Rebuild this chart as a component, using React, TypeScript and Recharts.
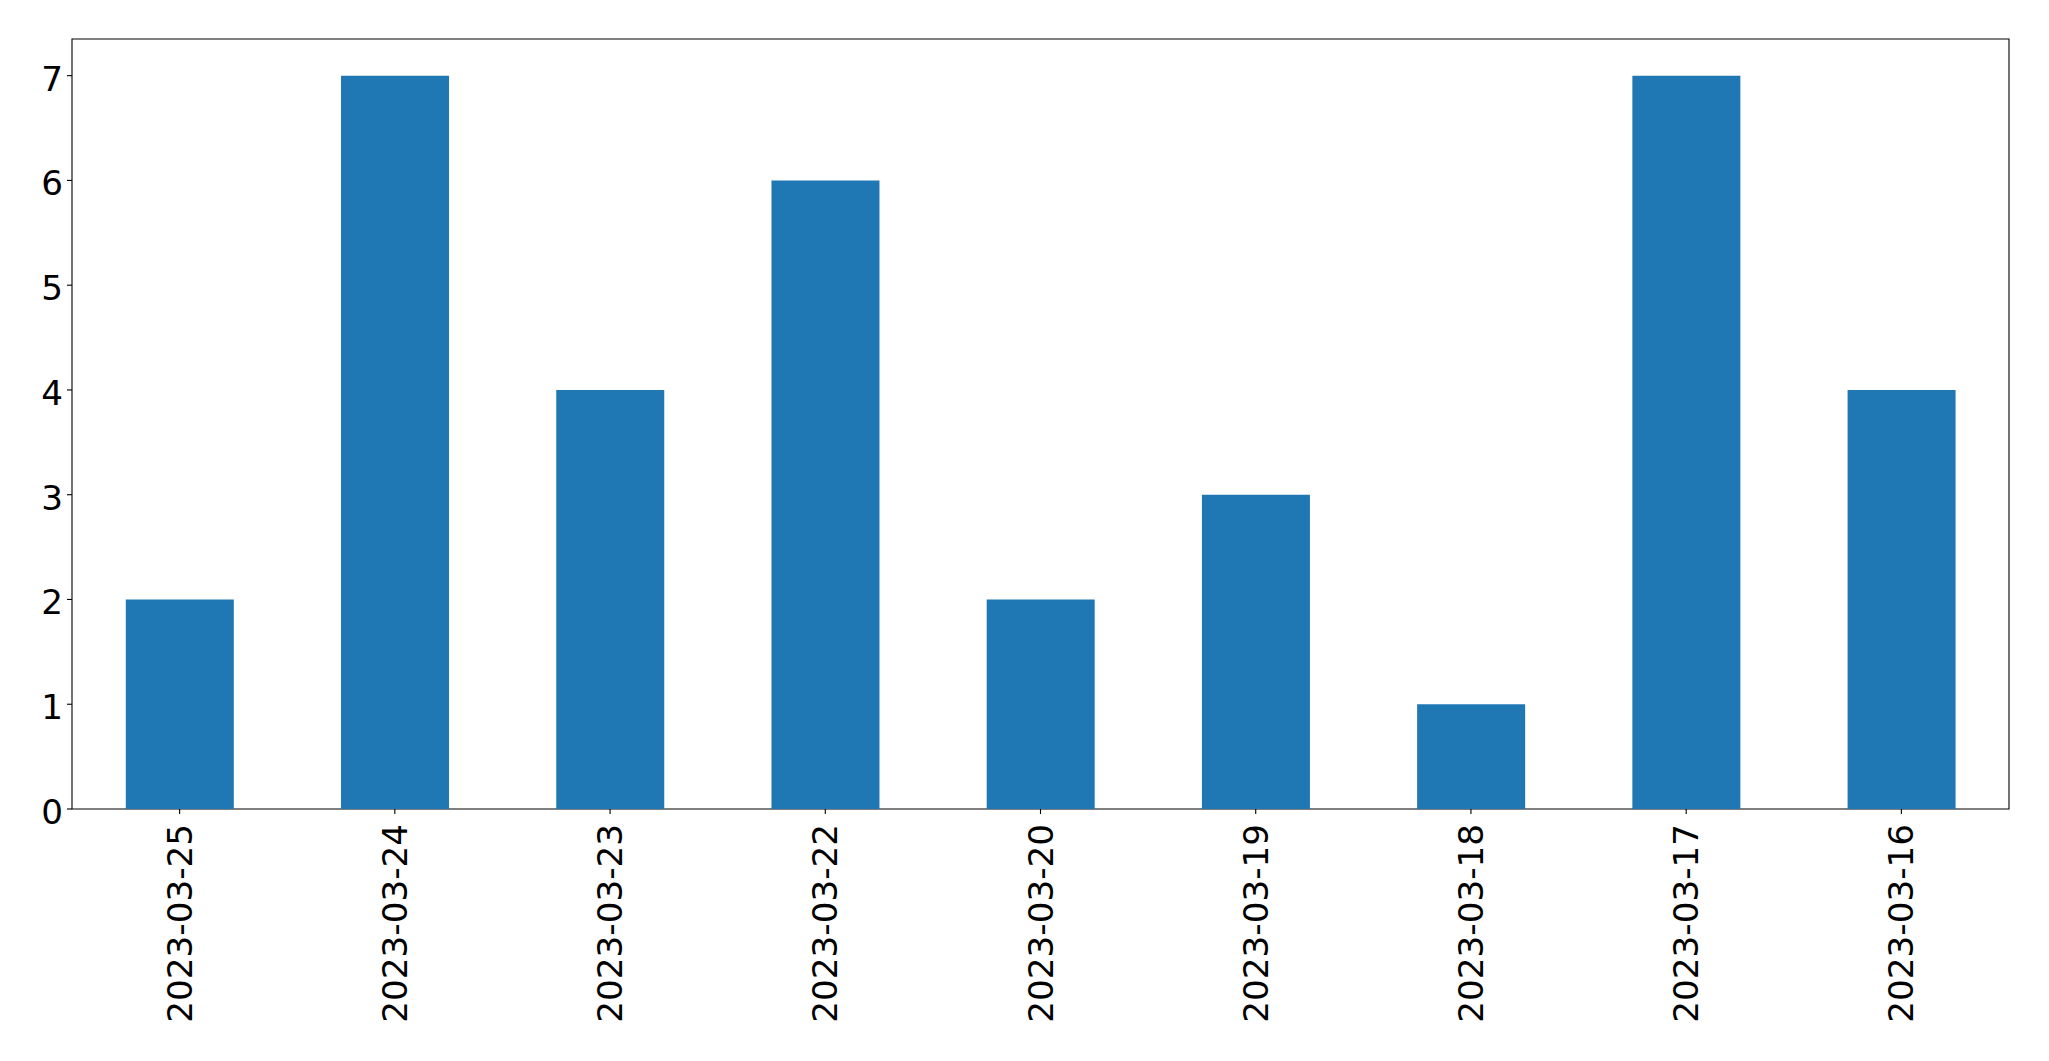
import React from 'react';
import { BarChart, Bar, XAxis, YAxis, ReferenceArea } from 'recharts';

const dates = [
  '2023-03-25',
  '2023-03-24',
  '2023-03-23',
  '2023-03-22',
  '2023-03-20',
  '2023-03-19',
  '2023-03-18',
  '2023-03-17',
  '2023-03-16',
];
const counts = [2, 7, 4, 6, 2, 3, 1, 7, 4];
const yTicks = [0, 1, 2, 3, 4, 5, 6, 7];

const data = dates.map((d, i) => ({ date: d, count: counts[i] }));

const FONT = 'DejaVu Sans';
const FONT_SIZE = 34.2;

// rotated date labels, read bottom-to-top like matplotlib rot=90
const DateTick = (props: any) => {
  const { x, y, payload } = props;
  return (
    <text
      x={x}
      y={y}
      dy={12}
      transform={`rotate(-90, ${x}, ${y})`}
      textAnchor="end"
      fontFamily={FONT}
      fontSize={FONT_SIZE}
      fill="#000"
    >
      {payload.value}
    </text>
  );
};

const CountTick = (props: any) => {
  const { x, y, payload } = props;
  return (
    <text x={x} y={y} dy={15} textAnchor="end" fontFamily={FONT} fontSize={FONT_SIZE} fill="#000">
      {payload.value}
    </text>
  );
};

export default function App() {
  return (
    <div style={{ position: 'absolute', left: 0, top: 0, width: 2049, height: 1061, background: '#fff' }}>
      <BarChart
        width={2049}
        height={1061}
        data={data}
        margin={{ top: 39, right: 40, bottom: 0, left: 0 }}
        barCategoryGap="25%"
      >
        <XAxis
          dataKey="date"
          height={252}
          axisLine={false}
          tickLine={{ stroke: '#000', strokeWidth: 1.1 }}
          tickSize={5}
          tickMargin={10}
          tick={<DateTick />}
          interval={0}
        />
        <YAxis
          width={72}
          domain={[0, 7.35]}
          ticks={yTicks}
          allowDataOverflow
          axisLine={false}
          tickLine={{ stroke: '#000', strokeWidth: 1.1 }}
          tickSize={5}
          tickMargin={4}
          tick={<CountTick />}
        />
        <Bar dataKey="count" fill="#1f77b4" isAnimationActive={false} />
        <ReferenceArea y1={0} y2={7.35} fill="none" stroke="#000" strokeWidth={1.1} ifOverflow="visible" />
      </BarChart>
    </div>
  );
}
